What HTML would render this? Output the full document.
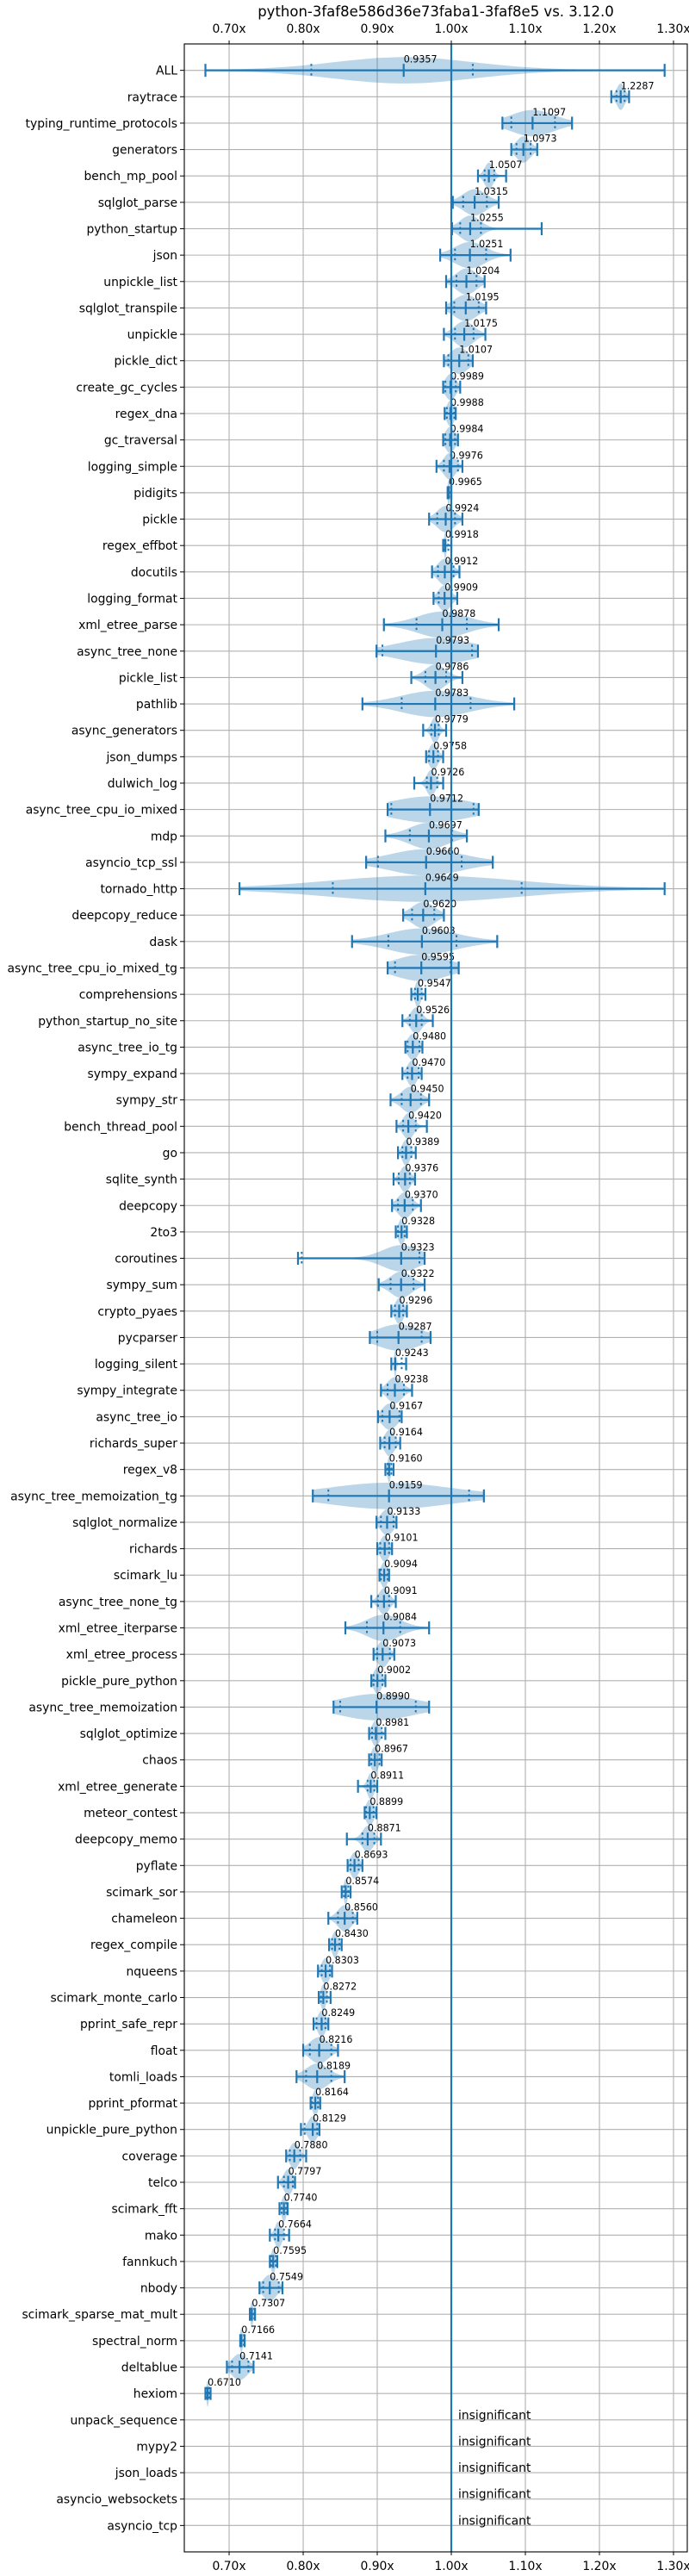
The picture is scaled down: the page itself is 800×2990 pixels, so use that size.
<!DOCTYPE html>
<html><head><meta charset="utf-8">
<style>
html,body{margin:0;padding:0;background:#fff;}
svg{display:block;font-family:"DejaVu Sans","Liberation Sans",sans-serif;}
</style></head>
<body>
<svg id="chart" width="800" height="2990" viewBox="0 0 800 2990" xmlns="http://www.w3.org/2000/svg">
<rect x="0" y="0" width="800" height="2990" fill="#fff"/>
<text x="506" y="19" font-size="16.5" text-anchor="middle" fill="#000">python-3faf8e586d36e73faba1-3faf8e5 vs. 3.12.0</text>
<g id="grid"></g>
<g id="violins"></g>
<g id="marks"></g>
<g id="labels"></g>
<g id="axes"></g>
</svg>
<script>
const names = ["ALL","raytrace","typing_runtime_protocols","generators","bench_mp_pool","sqlglot_parse","python_startup","json","unpickle_list","sqlglot_transpile","unpickle","pickle_dict","create_gc_cycles","regex_dna","gc_traversal","logging_simple","pidigits","pickle","regex_effbot","docutils","logging_format","xml_etree_parse","async_tree_none","pickle_list","pathlib","async_generators","json_dumps","dulwich_log","async_tree_cpu_io_mixed","mdp","asyncio_tcp_ssl","tornado_http","deepcopy_reduce","dask","async_tree_cpu_io_mixed_tg","comprehensions","python_startup_no_site","async_tree_io_tg","sympy_expand","sympy_str","bench_thread_pool","go","sqlite_synth","deepcopy","2to3","coroutines","sympy_sum","crypto_pyaes","pycparser","logging_silent","sympy_integrate","async_tree_io","richards_super","regex_v8","async_tree_memoization_tg","sqlglot_normalize","richards","scimark_lu","async_tree_none_tg","xml_etree_iterparse","xml_etree_process","pickle_pure_python","async_tree_memoization","sqlglot_optimize","chaos","xml_etree_generate","meteor_contest","deepcopy_memo","pyflate","scimark_sor","chameleon","regex_compile","nqueens","scimark_monte_carlo","pprint_safe_repr","float","tomli_loads","pprint_pformat","unpickle_pure_python","coverage","telco","scimark_fft","mako","fannkuch","nbody","scimark_sparse_mat_mult","spectral_norm","deltablue","hexiom","unpack_sequence","mypy2","json_loads","asyncio_websockets","asyncio_tcp"];
const medians = [0.9357,1.2287,1.1097,1.0973,1.0507,1.0315,1.0255,1.0251,1.0204,1.0195,1.0175,1.0107,0.9989,0.9988,0.9984,0.9976,0.9965,0.9924,0.9918,0.9912,0.9909,0.9878,0.9793,0.9786,0.9783,0.9779,0.9758,0.9726,0.9712,0.9697,0.9660,0.9649,0.9620,0.9603,0.9595,0.9547,0.9526,0.9480,0.9470,0.9450,0.9420,0.9389,0.9376,0.9370,0.9328,0.9323,0.9322,0.9296,0.9287,0.9243,0.9238,0.9167,0.9164,0.9160,0.9159,0.9133,0.9101,0.9094,0.9091,0.9084,0.9073,0.9002,0.8990,0.8981,0.8967,0.8911,0.8899,0.8871,0.8693,0.8574,0.8560,0.8430,0.8303,0.8272,0.8249,0.8216,0.8189,0.8164,0.8129,0.7880,0.7797,0.7740,0.7664,0.7595,0.7549,0.7307,0.7166,0.7141,0.6710,null,null,null,null,null];
const mins = [0.668,1.216,1.069,1.081,1.036,1.002,1.001,0.985,0.993,0.993,0.990,0.990,0.989,0.991,0.989,0.980,0.995,0.970,0.989,0.974,0.976,0.909,0.899,0.946,0.880,0.962,0.966,0.950,0.914,0.911,0.885,0.714,0.935,0.866,0.914,0.946,0.934,0.938,0.934,0.918,0.926,0.928,0.922,0.920,0.925,0.793,0.902,0.919,0.890,0.919,0.905,0.901,0.904,0.911,0.813,0.899,0.900,0.903,0.892,0.857,0.895,0.892,0.841,0.889,0.889,0.874,0.883,0.859,0.860,0.852,0.834,0.835,0.820,0.821,0.814,0.800,0.791,0.810,0.797,0.777,0.766,0.768,0.755,0.755,0.741,0.728,0.715,0.697,0.668];
const maxs = [1.288,1.240,1.163,1.116,1.074,1.064,1.122,1.080,1.045,1.047,1.046,1.029,1.012,1.006,1.009,1.015,1.000,1.015,1.000,1.011,1.008,1.064,1.036,1.015,1.085,0.993,0.989,0.989,1.037,1.021,1.056,1.288,0.990,1.062,1.010,0.965,0.975,0.961,0.960,0.970,0.967,0.952,0.951,0.959,0.940,0.964,0.964,0.940,0.972,0.939,0.947,0.933,0.931,0.922,1.044,0.926,0.920,0.916,0.925,0.970,0.923,0.911,0.970,0.911,0.906,0.900,0.899,0.905,0.880,0.864,0.873,0.852,0.839,0.837,0.834,0.847,0.856,0.823,0.822,0.804,0.789,0.779,0.781,0.765,0.772,0.735,0.721,0.733,0.675];
const q1s = [0.811,1.223,1.081,1.088,1.045,1.016,1.012,1.005,1.007,1.004,1.005,0.996,0.992,0.994,0.992,0.990,0.996,0.981,0.991,0.982,0.983,0.953,0.907,0.965,0.933,0.973,0.970,0.967,0.919,0.944,0.901,0.840,0.947,0.915,0.924,0.951,0.944,0.941,0.941,0.933,0.935,0.934,0.929,0.928,0.928,0.798,0.918,0.924,0.900,0.924,0.914,0.907,0.910,0.914,0.834,0.905,0.904,0.905,0.901,0.886,0.900,0.895,0.850,0.893,0.892,0.887,0.885,0.880,0.864,0.855,0.847,0.839,0.825,0.824,0.818,0.809,0.804,0.812,0.802,0.782,0.774,0.771,0.762,0.757,0.746,0.729,0.716,0.704,0.670];
const q3s = [1.029,1.234,1.140,1.107,1.058,1.048,1.040,1.047,1.034,1.037,1.030,1.023,1.006,1.004,1.005,1.009,0.997,1.005,0.996,1.003,1.000,1.021,1.028,0.993,1.026,0.983,0.982,0.981,1.030,1.001,1.014,1.095,0.977,1.007,0.999,0.960,0.960,0.957,0.956,0.959,0.952,0.946,0.944,0.948,0.937,0.957,0.949,0.935,0.960,0.933,0.936,0.930,0.925,0.919,1.024,0.922,0.916,0.914,0.916,0.931,0.917,0.907,0.952,0.906,0.903,0.896,0.895,0.896,0.875,0.861,0.867,0.849,0.836,0.832,0.830,0.838,0.838,0.820,0.819,0.796,0.786,0.777,0.774,0.763,0.767,0.734,0.720,0.726,0.673];
const xTicks = [0.70,0.80,0.90,1.00,1.10,1.20,1.30];
const xTickLabels = ["0.70x","0.80x","0.90x","1.00x","1.10x","1.20x","1.30x"];

const NS = "http://www.w3.org/2000/svg";
const L = 214, R = 798, T = 51, B = 2962;
const X0 = 0.6395, X1 = 1.3186;
function xs(v){ return L + (v - X0) / (X1 - X0) * (R - L); }
const step = (B - T) / (names.length + 1);
function ys(i){ return T + (i + 1) * step; }
const C = "#1f77b4";
function el(tag, attrs, parent){
  const e = document.createElementNS(NS, tag);
  for (const k in attrs) e.setAttribute(k, attrs[k]);
  parent.appendChild(e);
  return e;
}
const gGrid = document.getElementById("grid");
const gV = document.getElementById("violins");
const gM = document.getElementById("marks");
const gL = document.getElementById("labels");
const gA = document.getElementById("axes");

xTicks.forEach((t, k) => {
  const ln = el("line", {x1: xs(t), x2: xs(t), y1: T, y2: B, stroke: "#b0b0b0", "stroke-width": 1.1}, gGrid);
  
  
  const tt = el("text", {x: xs(t), y: 38, "font-size": 13.9, "text-anchor": "middle", fill: "#000"}, gA);
  tt.textContent = xTickLabels[k];
  
  
  const tb = el("text", {x: xs(t), y: 2983, "font-size": 13.9, "text-anchor": "middle", fill: "#000"}, gA);
  tb.textContent = xTickLabels[k];
  
  
  el("line", {x1: xs(t), x2: xs(t), y1: T - 4, y2: T, stroke: "#000", "stroke-width": 1}, gA);
  el("line", {x1: xs(t), x2: xs(t), y1: B, y2: B + 4, stroke: "#000", "stroke-width": 1}, gA);
});
names.forEach((n, i) => {
  const y = ys(i);
  const ln = el("line", {x1: L, x2: R, y1: y, y2: y, stroke: "#b0b0b0", "stroke-width": 1.1}, gGrid);
  
  
  el("line", {x1: L - 5, x2: L, y1: y, y2: y, stroke: "#000", "stroke-width": 1}, gA);
  const t = el("text", {x: L - 8, y: y + 5, "font-size": 13.9, "text-anchor": "end", fill: "#000"}, gL);
  t.textContent = n;
  
  
});

const HW = 15.3, CAP = 7.5;
names.forEach((n, i) => {
  const y = ys(i);
  const m = medians[i];
  if (m === null || m === undefined) {
    const t = el("text", {x: xs(1.0) + 8, y: y - 1, "font-size": 13.9, fill: "#000"}, gL);
    t.textContent = "insignificant";
    
    
    return;
  }
  const lo = mins[i], hi = maxs[i], a = q1s[i], b = q3s[i];
  const s = Math.max(Math.min(m - a, b - m) * 1.0, 0.0015);
  const N = 80, pts = [];
  let mx = 0;
  for (let k = 0; k <= N; k++) {
    const v = lo + (hi - lo) * k / N;
    const d = Math.exp(-0.5 * Math.pow((v - m) / s, 2)) + 0.04;
    pts.push([v, d]); if (d > mx) mx = d;
  }
  let top = "", bot = "";
  pts.forEach((p, k) => {
    const h = HW * p[1] / mx;
    top += (k ? "L" : "M") + xs(p[0]).toFixed(1) + "," + (y - h).toFixed(1);
  });
  for (let k = pts.length - 1; k >= 0; k--) {
    const h = HW * pts[k][1] / mx;
    bot += "L" + xs(pts[k][0]).toFixed(1) + "," + (y + h).toFixed(1);
  }
  const vp = el("path", {d: top + bot + "Z", fill: C, "fill-opacity": 0.3}, gV);
  
  

  const bar = el("line", {x1: xs(lo), x2: xs(hi), y1: y, y2: y, stroke: C, "stroke-width": 2.2}, gM);
  
  
  [lo, hi].forEach(v => {
    const c = el("line", {x1: xs(v), x2: xs(v), y1: y - CAP, y2: y + CAP, stroke: C, "stroke-width": 2.2}, gM);
    
    
  });
  const md = el("line", {x1: xs(m), x2: xs(m), y1: y - CAP, y2: y + CAP, stroke: C, "stroke-width": 2.2}, gM);
  
  
  [a, b].forEach(v => {
    const q = el("line", {x1: xs(v), x2: xs(v), y1: y - CAP, y2: y + CAP, stroke: C, "stroke-width": 2, "stroke-dasharray": "2.5,3"}, gM);
    
    
  });
  const vl = el("text", {x: xs(m), y: y - 9, "font-size": 11.1, fill: "#000"}, gL);
  vl.textContent = m.toFixed(4);
  
  
});

const ref = el("line", {x1: xs(1.0), x2: xs(1.0), y1: T, y2: B, stroke: C, "stroke-width": 2.2}, gA);


const fr = el("rect", {x: L, y: T, width: R - L, height: B - T, fill: "none", stroke: "#000", "stroke-width": 1.1}, gA);


</script>
</body></html>
